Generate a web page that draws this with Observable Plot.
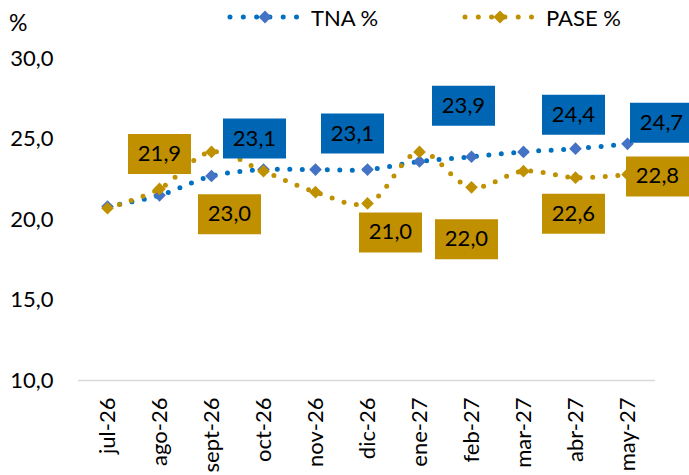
<!DOCTYPE html>
<html><head><meta charset="utf-8">
<script src="https://cdn.jsdelivr.net/npm/d3@7"></script>
<script src="https://cdn.jsdelivr.net/npm/@observablehq/plot@0.6"></script>
<style>
body{margin:0;background:#fff;font-family:Lato,"Open Sans",sans-serif;color:#000;}
#header{position:relative;height:40px;width:689px;}
#pct{position:absolute;left:9px;top:8px;font-size:23px;line-height:28px;}
.leg{position:absolute;top:3px;height:28px;display:flex;align-items:center;font-size:22px;}
.leg svg{display:block;margin-right:9px;}
</style></head><body>
<div id="header"></div>
<div id="chart"></div>
<script>
// ---- data ----
const months = ["jul-26","ago-26","sept-26","oct-26","nov-26","dic-26","ene-27","feb-27","mar-27","abr-27","may-27"];
const tna  = [20.8, 21.5, 22.7, 23.1, 23.1, 23.1, 23.6, 23.9, 24.2, 24.4, 24.7];
const pase = [20.7, 21.9, 24.2, 23.0, 21.7, 21.0, 24.2, 22.0, 23.0, 22.6, 22.8];
const yTicks = [10, 15, 20, 25, 30];
const seriesNames = ["TNA %", "PASE %"];
const tnaLabelMonths  = ["oct-26","dic-26","feb-27","abr-27","may-27"];
const paseLabelMonths = ["ago-26","oct-26","dic-26","feb-27","abr-27","may-27"];

// ---- layout / style ----
const tnaLabelOffsets  = [[-9,-31],[-15,-36],[-8,-51],[-2,-34],[34,-21]];
const paseLabelOffsets = [[0,-35],[-34,43],[23,29],[-5,52],[-2,36],[30,2]];
const C = {tnaLine:"#0070C0", tnaMark:"#4472C4", tnaBox:"#0066B3",
           paseLine:"#BF9000", paseMark:"#BF9000", paseBox:"#C09000"};
const fmt = v => v.toFixed(1).replace(".", ",");

const data = months.map((m, i) => ({month: m, tna: tna[i], pase: pase[i]}));
const rectSymbol = {draw(ctx) { ctx.rect(-31.5, -20, 63, 40); }};
const diamond = "diamond2";

function labelMarks(labelMonths, offsets, values, boxColor) {
  const marks = [];
  labelMonths.forEach((m, i) => {
    const d = [{month: m, value: values[months.indexOf(m)]}];
    const [dx, dy] = offsets[i];
    marks.push(Plot.dot(d, {x: "month", y: "value", symbol: rectSymbol, r: 10, fill: boxColor, stroke: "none", dx, dy}));
    marks.push(Plot.text(d, {x: "month", y: "value", text: dd => fmt(dd.value), fill: "#000", fontSize: 22, dx, dy}));
  });
  return marks;
}

const lineOpts = {strokeWidth: 5, strokeDasharray: "0 12.5", strokeLinecap: "round", curve: "catmull-rom"};

const chart = Plot.plot({
  width: 689, height: 435,
  marginTop: 18, marginBottom: 95, marginLeft: 78, marginRight: 34,
  style: {fontFamily: 'Lato, "Open Sans", sans-serif', fontSize: "22px", color: "#000", background: "#fff"},
  x: {type: "point", domain: months, padding: 0.5, tickRotate: -90, tickSize: 0, tickPadding: 17, label: null},
  y: {domain: [10, 30], ticks: yTicks, tickFormat: fmt, tickSize: 0, tickPadding: 25, label: null},
  marks: [
    Plot.ruleY([10], {stroke: "#d9d9d9", strokeWidth: 1.5}),
    Plot.line(data, {x: "month", y: "tna", stroke: C.tnaLine, ...lineOpts}),
    Plot.dot(data, {x: "month", y: "tna", symbol: diamond, r: 5.7, fill: C.tnaMark, stroke: "none"}),
    Plot.line(data, {x: "month", y: "pase", stroke: C.paseLine, ...lineOpts}),
    Plot.dot(data, {x: "month", y: "pase", symbol: diamond, r: 5.7, fill: C.paseMark, stroke: "none"}),
    ...labelMarks(tnaLabelMonths, tnaLabelOffsets, tna, C.tnaBox),
    ...labelMarks(paseLabelMonths, paseLabelOffsets, pase, C.paseBox)
  ]
});
document.getElementById("chart").appendChild(chart);

// ---- header: unit label + legend ----
const header = d3.select("#header");
header.append("span").attr("id", "pct").text("%");
const legendItems = [
  {name: seriesNames[0], line: C.tnaLine, mark: C.tnaMark, left: 222},
  {name: seriesNames[1], line: C.paseLine, mark: C.paseMark, left: 457}
];
legendItems.forEach(it => {
  const div = header.append("div").attr("class", "leg").style("left", it.left + "px");
  const svg = div.append("svg").attr("width", 80).attr("height", 16);
  svg.append("line").attr("x1", 8).attr("x2", 76).attr("y1", 8).attr("y2", 8)
    .attr("stroke", it.line).attr("stroke-width", 5).attr("stroke-linecap", "round")
    .attr("stroke-dasharray", "0 13.3");
  svg.append("path").attr("d", "M43,1.5L49.5,8L43,14.5L36.5,8Z").attr("fill", it.mark);
  div.append("span").text(it.name);
});
</script>
</body></html>
